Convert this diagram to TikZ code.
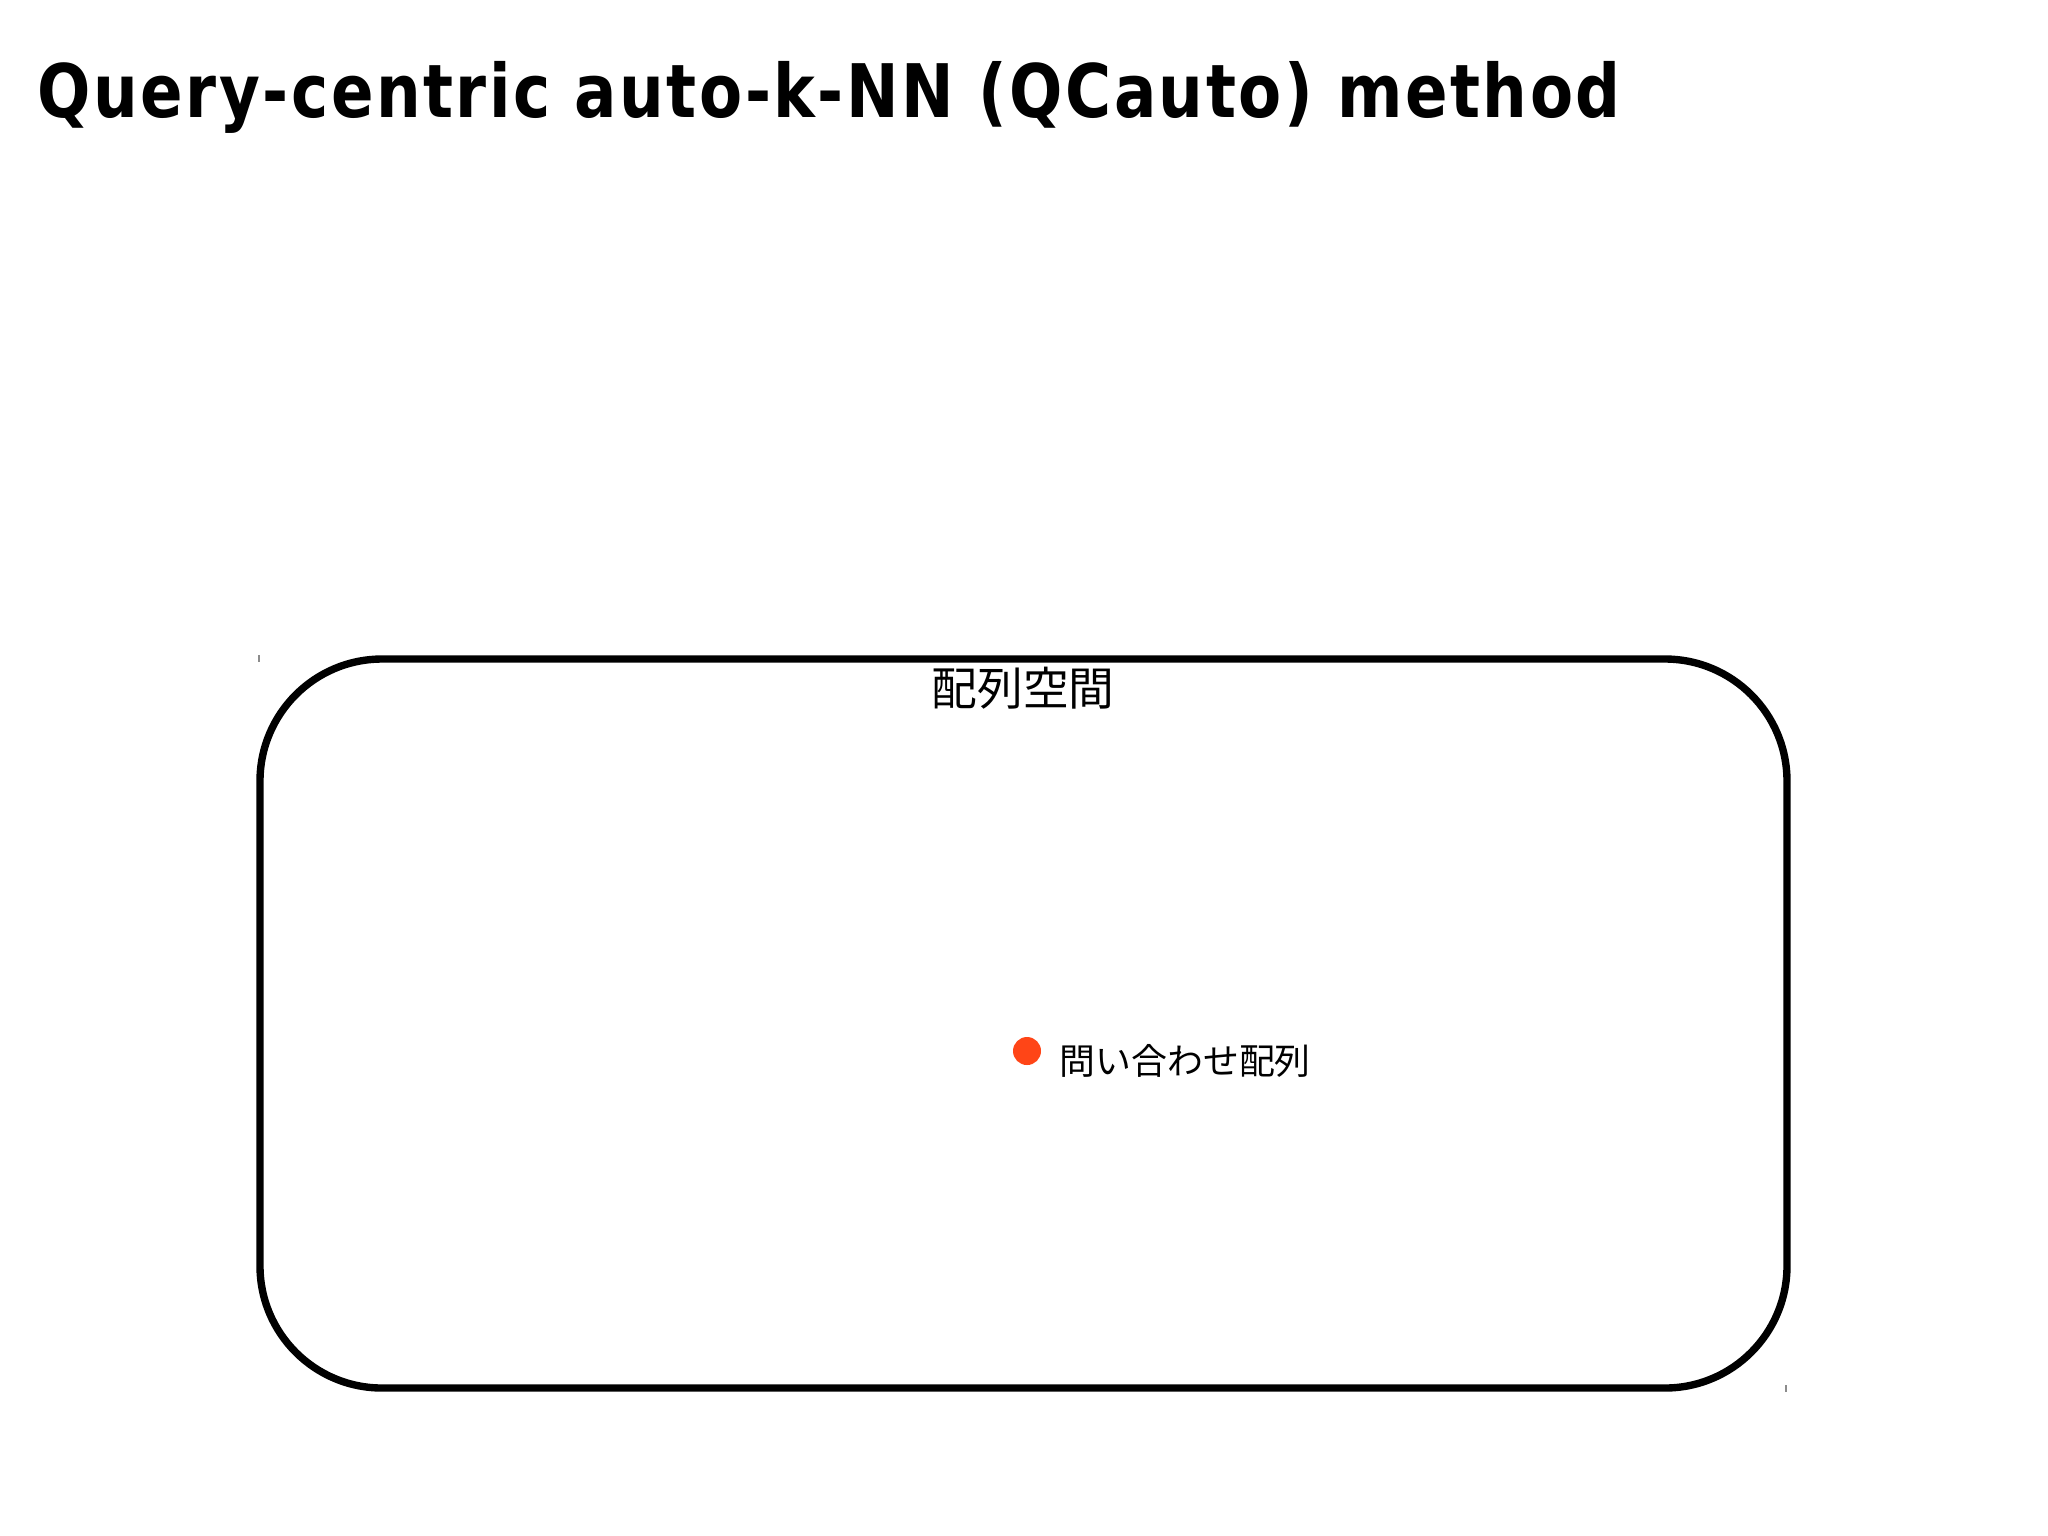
\documentclass[tikz,border=0pt]{standalone}
\usepackage{fontspec}
\usetikzlibrary{positioning}
\setmainfont{DejaVu Sans}
\newfontfamily\titlefont[LetterSpace=4]{DejaVu Sans}
\newfontfamily\jpfont{Noto Sans CJK JP}
\definecolor{queryred}{HTML}{FF4517}
\begin{document}
\begin{tikzpicture}[x=0.01cm,y=-0.01cm]
        \tikzstyle{space}=[draw=black,line width=2.1pt,rounded corners=1.22cm]
        \tikzstyle{point}=[circle,fill=queryred,minimum size=0.28cm,inner sep=0pt]
        \tikzstyle{tick}=[draw=black!45,line width=0.4pt]
        \useasboundingbox (0,0) rectangle (2048,1535);

        \node[anchor=base west,inner sep=0pt] (title) at (37,117)
                {\scalebox{0.85}[1]{\titlefont\fontsize{21}{25}\selectfont\bfseries Query-centric auto-k-NN (QCauto) method}};

        \draw[space] (260,659) rectangle (1787,1388);
        \node[anchor=center,inner sep=0pt] (spacelabel) at (1023,688) {\jpfont\fontsize{13}{15}\selectfont 配列空間};

        \node[point] (query) at (1027,1051) {};
        \node[anchor=west,inner sep=0pt,right=0.32cm of query.center,yshift=-0.1cm] (querylabel)
                {\jpfont\fontsize{10.2}{12}\selectfont 問い合わせ配列};

        \draw[tick] (259,655) -- (259,662);
        \draw[tick] (1786,1385) -- (1786,1392);
\end{tikzpicture}
\end{document}
